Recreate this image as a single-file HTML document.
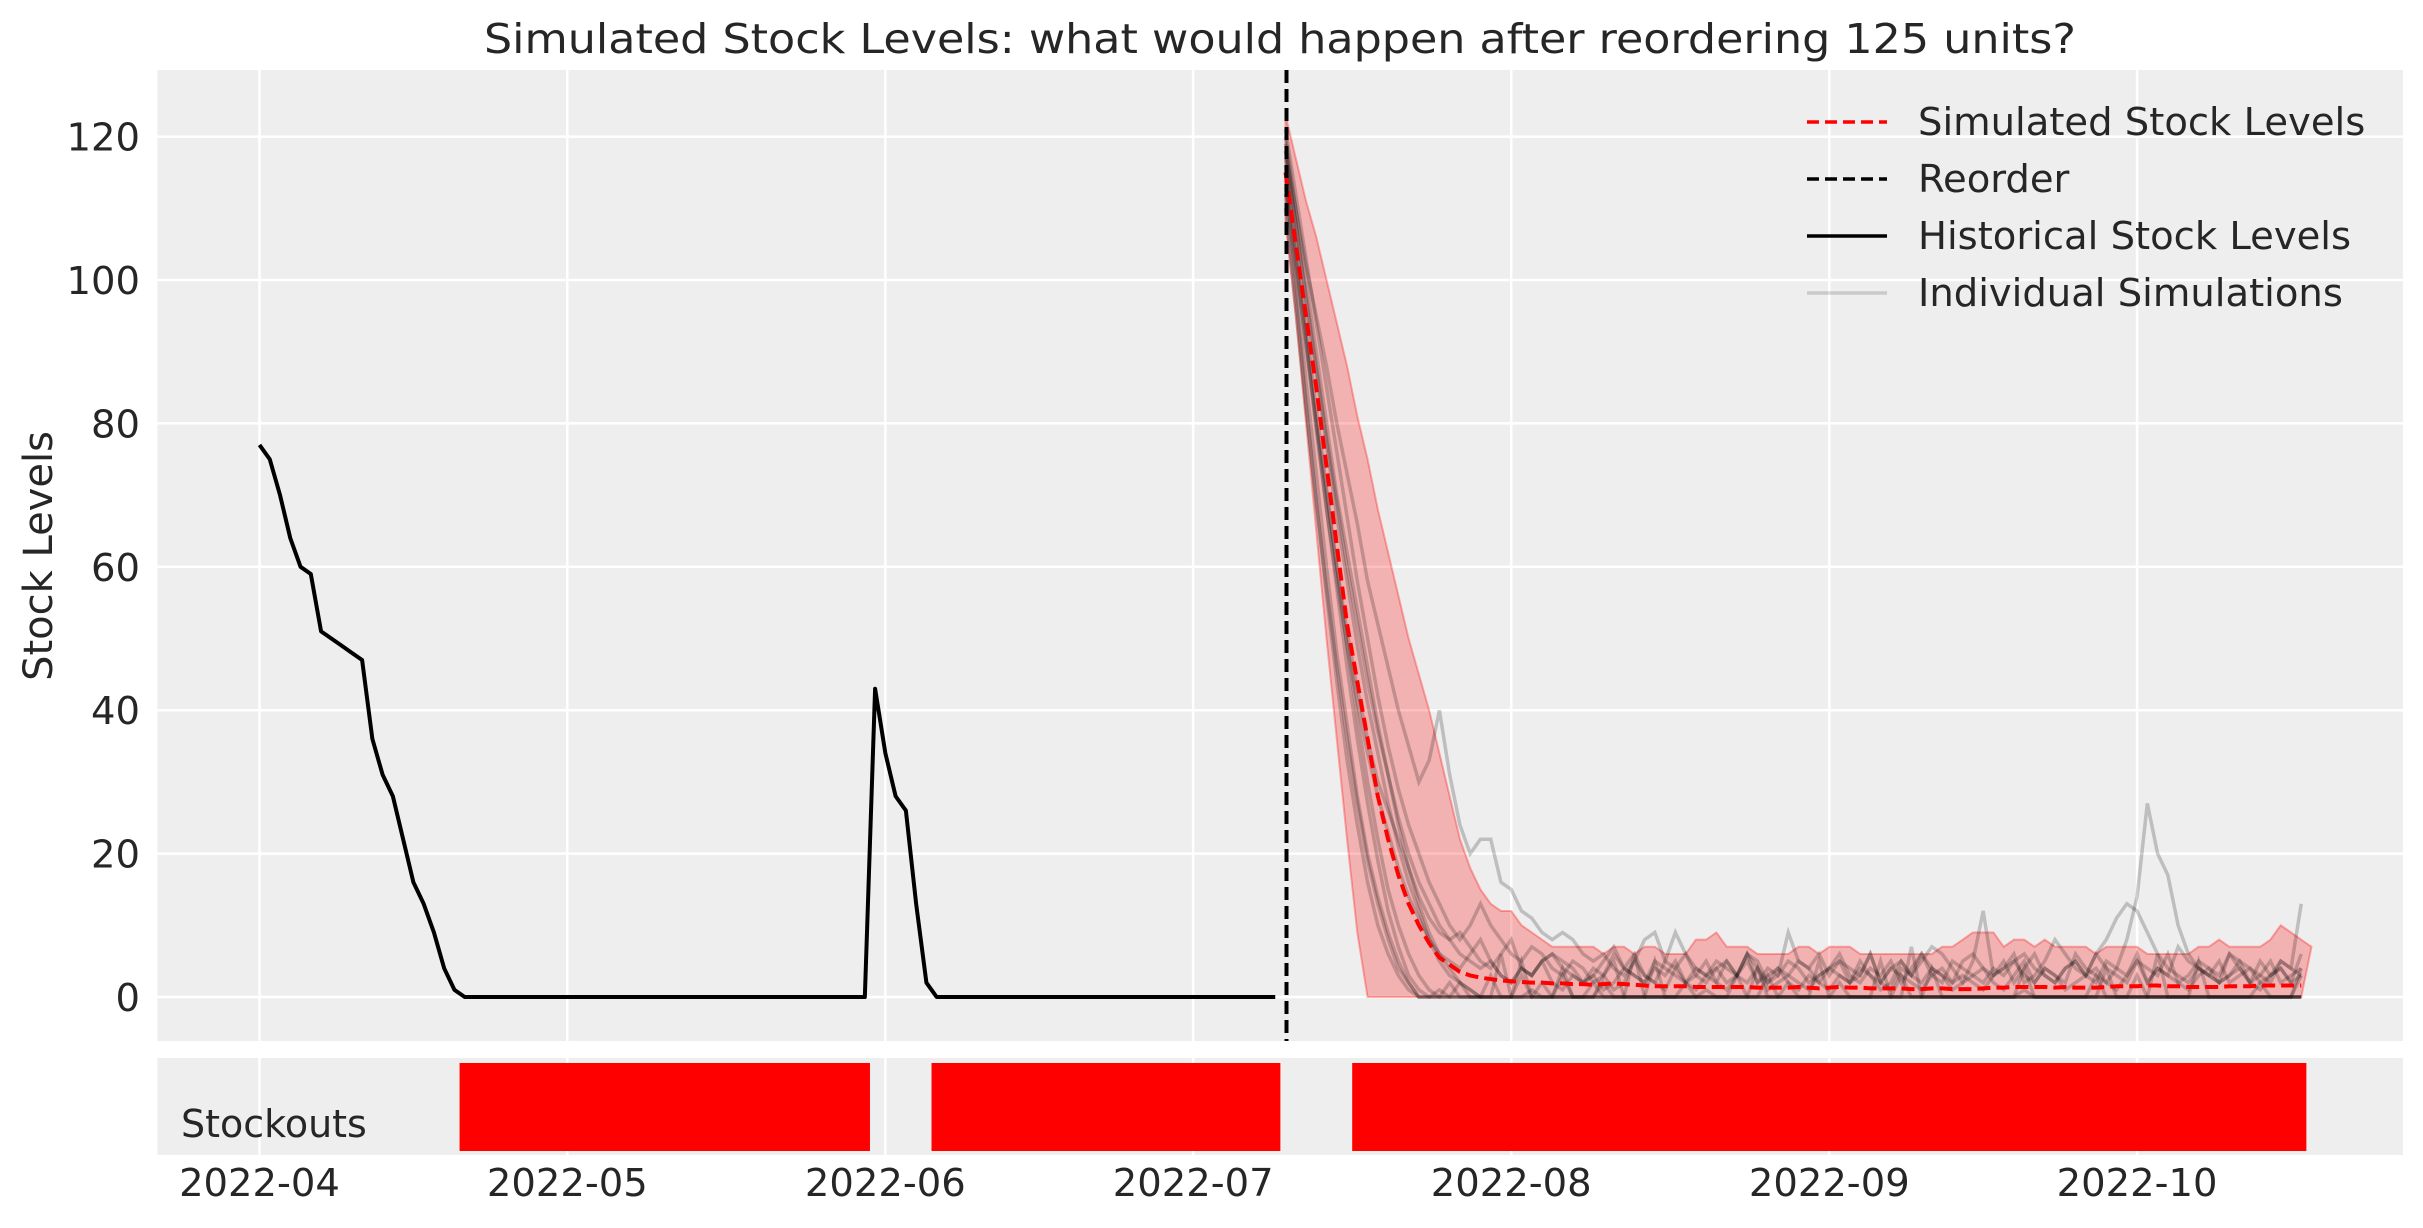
<!DOCTYPE html>
<html><head><meta charset="utf-8"><style>
html,body{margin:0;padding:0;background:#fff}
svg text{font-family:"DejaVu Sans","Liberation Sans",sans-serif;fill:#262626}
</style></head><body>
<svg id="chart" width="2423" height="1223" viewBox="0 0 2423 1223" xmlns="http://www.w3.org/2000/svg">
<rect x="157.5" y="70" width="2245.5" height="971" fill="#eeeeee"/>
<rect x="157.5" y="1058" width="2245.5" height="97" fill="#eeeeee"/>
<g id="grid"></g>
<g id="marks"></g>
<text x="1280" y="53" font-size="41" text-anchor="middle" textLength="1592" lengthAdjust="spacingAndGlyphs">Simulated Stock Levels: what would happen after reordering 125 units?</text>
<text transform="translate(52,556) rotate(-90)" font-size="40" text-anchor="middle">Stock Levels</text>
<text x="181" y="1137" font-size="38">Stockouts</text>
<g id="legend">
<line x1="1807" y1="122" x2="1887" y2="122" stroke="#ff0000" stroke-width="3.5" stroke-dasharray="12,6"/>
<text x="1918" y="135" font-size="38.5">Simulated Stock Levels</text>
<line x1="1807" y1="179" x2="1887" y2="179" stroke="#000" stroke-width="3.5" stroke-dasharray="12,6"/>
<text x="1918" y="192" font-size="38.5">Reorder</text>
<line x1="1807" y1="236" x2="1887" y2="236" stroke="#000" stroke-width="3.5"/>
<text x="1918" y="249" font-size="38.5">Historical Stock Levels</text>
<line x1="1807" y1="293" x2="1887" y2="293" stroke="rgba(0,0,0,0.15)" stroke-width="3.5"/>
<text x="1918" y="306" font-size="38.5">Individual Simulations</text>
</g>
</svg>
<script>
const yTicks=[0,20,40,60,80,100,120];
const xTickLabels=["2022-04","2022-05","2022-06","2022-07","2022-08","2022-09","2022-10"];
const xTickDays=[0,30,61,91,122,153,183];
const historical=[77,75,70,64,60,59,51,50,49,48,47,36,31,28,22,16,13,9,4,1,0,0,0,0,0,0,0,0,0,0,0,0,0,0,0,0,0,0,0,0,0,0,0,0,0,0,0,0,0,0,0,0,0,0,0,0,0,0,0,0,43,34,28,26,13,2,0,0,0,0,0,0,0,0,0,0,0,0,0,0,0,0,0,0,0,0,0,0,0,0,0,0,0,0,0,0,0,0,0,0];
const simStartDay=100;
const simMean=[115,105,95,85,74,63,52,44,36,28,22,17,13,10,7.5,5.5,4.5,3.5,3,2.7,2.5,2.3,2.2,2.1,2,2,1.9,1.9,1.8,1.8,1.7,1.8,1.9,1.8,1.7,1.6,1.5,1.5,1.5,1.5,1.4,1.4,1.4,1.4,1.4,1.4,1.3,1.3,1.3,1.3,1.4,1.3,1.2,1.3,1.4,1.3,1.3,1.2,1.2,1.2,1.2,1.1,1.1,1.2,1.2,1.1,1.1,1.1,1.2,1.3,1.3,1.4,1.4,1.4,1.4,1.3,1.4,1.3,1.3,1.3,1.4,1.5,1.5,1.5,1.6,1.6,1.5,1.5,1.4,1.4,1.4,1.4,1.5,1.5,1.5,1.6,1.6,1.6,1.6,1.6];
const simUpper=[123,117,111,106,100,94,88,81,75,68,62,56,50,45,40,34,28,22,18,15,13,12,12,10,9,8,7,7,7,7,7,6,7,7,6,7,7,6,6,6,8,8,9,7,7,7,6,6,6,6,7,7,6,7,7,7,6,6,6,6,6,6,6,6,7,7,8,9,9,9,7,8,8,7,8,7,7,7,7,6,7,7,7,7,6,6,6,6,6,7,7,8,7,7,7,7,8,10,9,8,7];
const simLower=[108,95,80,65,50,36,22,9,0,0,0,0,0,0,0,0,0,0,0,0,0,0,0,0,0,0,0,0,0,0,0,0,0,0,0,0,0,0,0,0,0,0,0,0,0,0,0,0,0,0,0,0,0,0,0,0,0,0,0,0,0,0,0,0,0,0,0,0,0,0,0,0,0,0,0,0,0,0,0,0,0,0,0,0,0,0,0,0,0,0,0,0,0,0,0,0,0,0,0,0];
const sim1=[118,110,102,95,88,80,73,66,58,52,46,40,35,30,33,40,31,24,20,22,22,16,15,12,11,9,8,9,8,6,5,6,4,3,5,8,9,5,4,6,3,2,4,5,3,6,5,2,4,3,2,1,3,4,5,2,3,6,2,1,4,3,5,7,6,4,2,5,12,3,4,6,2,3,5,8,6,4,3,2,5,4,3,6,2,4,3,7,5,4,3,2,6,5,4,3,2,5,4,13];
const sim2=[116,104,92,80,68,57,46,36,27,19,12,7,3,1,0,0,0,2,0,0,3,0,0,0,1,0,0,4,0,0,0,2,0,0,0,0,5,0,0,0,0,1,0,0,0,0,0,3,0,0,0,0,0,0,2,0,0,0,0,0,0,0,0,4,0,0,0,0,0,0,0,0,1,0,0,0,0,0,0,3,0,0,0,0,0,0,0,0,0,5,0,0,0,0,0,0,0,0,0,0];
const sim3=[114,100,86,73,60,48,38,28,20,14,9,5,2,0,0,1,0,0,0,0,0,6,0,0,0,0,0,0,0,0,0,0,0,0,0,0,0,0,0,0,0,0,0,0,0,0,0,0,0,2,0,0,0,0,0,0,0,0,0,0,0,0,0,0,0,0,0,0,0,0,0,0,0,0,0,0,0,0,0,0,0,0,0,0,0,6,0,0,0,0,0,0,0,0,0,0,0,0,0,3];
const sim4=[112,98,83,69,56,44,33,24,16,10,6,3,1,0,0,0,2,0,0,0,0,0,0,0,0,0,0,0,0,0,0,3,5,0,0,0,0,0,0,0,0,0,0,0,0,0,0,0,0,0,0,0,0,0,0,0,0,0,5,0,0,0,0,0,0,0,0,0,0,0,0,0,0,0,0,0,0,0,0,0,4,0,0,0,0,0,0,0,0,0,0,0,0,0,0,0,0,0,0,0];
const sim5=[120,110,100,90,80,70,62,54,46,38,31,24,18,13,9,6,4,2,1,0,0,0,0,5,0,0,0,3,0,0,2,0,0,0,6,0,0,0,0,0,0,0,0,0,3,0,0,0,0,0,0,0,5,0,0,0,0,0,0,0,0,7,0,0,0,0,0,0,0,0,0,0,4,0,0,0,0,0,0,0,0,0,0,3,0,0,0,0,0,0,0,0,0,0,0,2,0,0,0,4];
const sim6=[117,106,94,82,71,60,49,39,30,22,15,10,6,3,1,0,0,0,0,0,0,0,0,0,0,0,0,0,0,0,0,0,0,0,0,0,0,0,0,0,0,0,0,0,0,0,0,0,0,0,0,0,0,0,0,0,0,0,0,0,0,0,0,0,0,0,0,0,0,0,0,0,0,0,0,0,0,0,0,0,0,0,0,0,0,0,0,0,0,0,0,0,0,0,0,0,0,0,0,0];
const sim7=[113,102,91,80,70,60,51,43,36,30,26,22,18,14,11,9,8,9,7,5,4,6,8,4,3,5,6,5,4,2,3,5,7,4,6,3,2,5,9,6,4,3,5,4,3,6,2,4,3,9,5,4,6,3,5,4,3,6,2,4,5,3,6,4,3,2,5,6,4,3,5,2,4,6,3,2,4,5,3,6,4,3,2,5,4,3,6,2,3,5,4,3,6,4,2,3,5,2,3,4];
const sim8=[119,108,97,87,77,67,58,49,41,34,27,21,16,12,8,5,3,2,1,0,0,0,0,0,0,2,0,0,0,0,0,0,0,0,0,0,0,0,0,0,0,0,0,0,0,0,4,0,0,0,0,0,0,0,0,0,0,0,0,0,0,0,0,0,0,0,0,0,0,0,0,0,0,0,0,0,0,0,0,0,0,0,0,0,0,0,0,0,0,0,0,0,0,0,0,0,0,0,0,0];
const sim9=[115,103,91,79,68,58,49,41,34,28,23,18,14,11,8,6,5,4,6,8,5,3,2,4,3,5,2,1,3,2,4,3,1,2,5,3,2,1,4,2,3,5,2,1,3,2,4,1,2,3,5,4,2,1,3,2,4,3,1,2,5,3,2,4,3,1,2,3,4,2,1,3,5,2,4,3,1,2,3,4,2,1,3,5,2,4,3,2,1,3,4,2,3,5,2,1,3,4,2,3];
const sim10=[121,112,103,94,85,76,67,58,50,42,35,29,24,20,16,13,10,8,10,13,10,8,6,5,7,6,4,3,5,4,2,3,6,4,3,2,4,3,5,2,4,3,2,5,3,6,4,2,3,5,4,2,3,4,6,3,2,4,3,5,2,4,6,3,2,5,4,3,2,4,3,5,6,4,3,2,4,5,3,6,8,11,13,12,9,6,4,3,2,4,3,5,2,3,4,2,3,5,4,3];
const sim11=[110,96,82,69,57,46,36,27,19,13,8,4,2,0,0,0,0,0,0,0,0,0,0,3,0,0,0,0,0,0,0,0,0,0,0,0,0,0,0,2,0,0,0,0,0,0,0,0,0,0,0,0,0,0,0,0,0,0,0,0,3,0,0,0,0,0,0,0,0,0,0,0,0,0,0,0,0,0,0,0,0,0,0,0,0,0,0,0,0,0,0,0,0,0,0,0,0,0,0,0];
const sim12=[118,108,98,88,78,69,60,52,44,37,31,25,20,16,13,10,8,6,5,4,5,3,2,4,3,5,6,4,3,2,3,1,2,4,3,2,5,4,3,2,1,3,4,2,3,5,2,3,4,2,1,3,2,4,3,2,5,3,2,4,3,2,1,3,4,2,3,2,1,3,4,5,3,2,4,3,2,6,4,3,2,4,8,14,27,20,17,10,6,4,3,2,3,4,2,5,3,4,2,6];
const simulations=[sim1,sim2,sim3,sim4,sim5,sim6,sim7,sim8,sim9,sim10,sim11,sim12];
const stockoutStarts=[19.5,65.5,106.5];
const stockoutEnds=[59.5,99.5,199.5];
const reorderDay=100;

const X0=259.5, PXD=10.26;
function xs(d){return X0+PXD*d;}
function ys(v){return 997-v*7.17;}
const NS="http://www.w3.org/2000/svg";
const grid=document.getElementById('grid'), marks=document.getElementById('marks'), svg=document.getElementById('chart');
function mk(tag,attrs,parent){const e=document.createElementNS(NS,tag);for(const k in attrs)e.setAttribute(k,attrs[k]);(parent||marks).appendChild(e);return e;}

yTicks.forEach(t=>{
  const l=mk('line',{x1:157.5,x2:2403,y1:ys(t),y2:ys(t),stroke:'#fff','stroke-width':2.5},grid);
  
  
  const tx=mk('text',{x:140,y:ys(t)+14,'font-size':38.5,'text-anchor':'end'},svg);
  tx.textContent=t;
  
  
});
xTickDays.forEach((d,i)=>{
  const l=mk('line',{x1:xs(d),x2:xs(d),y1:70,y2:1041,stroke:'#fff','stroke-width':2.5},grid);
  
  
  const l2=mk('line',{x1:xs(d),x2:xs(d),y1:1058,y2:1155,stroke:'#fff','stroke-width':2.5},grid);
  
  
  const tx=mk('text',{x:xs(d),y:1196,'font-size':38.5,'text-anchor':'middle'},svg);
  tx.textContent=xTickLabels[i];
  
  
});
let bp='';
simUpper.forEach((v,i)=>{bp+=(i?'L':'M')+xs(simStartDay+i)+','+ys(v);});
for(let i=simLower.length-1;i>=0;i--)bp+='L'+xs(simStartDay+i)+','+ys(simLower[i]);
const band=mk('path',{d:bp+'Z',fill:'rgba(255,0,0,0.25)',stroke:'rgba(255,0,0,0.3)','stroke-width':2});


function linePath(arr,start){return arr.map((v,i)=>(i?'L':'M')+xs(start+i)+','+ys(v)).join('');}
simulations.forEach(s=>{
  const p=mk('path',{d:linePath(s,simStartDay),fill:'none',stroke:'rgba(0,0,0,0.2)','stroke-width':3.5});
  
  
});
const h=mk('path',{d:linePath(historical,0),fill:'none',stroke:'#000','stroke-width':4,'stroke-linejoin':'round'});


const m=mk('path',{d:linePath(simMean,simStartDay),fill:'none',stroke:'#ff0000','stroke-width':4,'stroke-dasharray':'13,6'});


const r=mk('line',{x1:xs(reorderDay)+1,x2:xs(reorderDay)+1,y1:70,y2:1041,stroke:'#000','stroke-width':4,'stroke-dasharray':'13,6'});


stockoutStarts.forEach((s,i)=>{
  const b=mk('rect',{x:xs(s),y:1063,width:xs(stockoutEnds[i])-xs(s),height:88,fill:'#ff0000'});
  
  
});
</script>
</body></html>
